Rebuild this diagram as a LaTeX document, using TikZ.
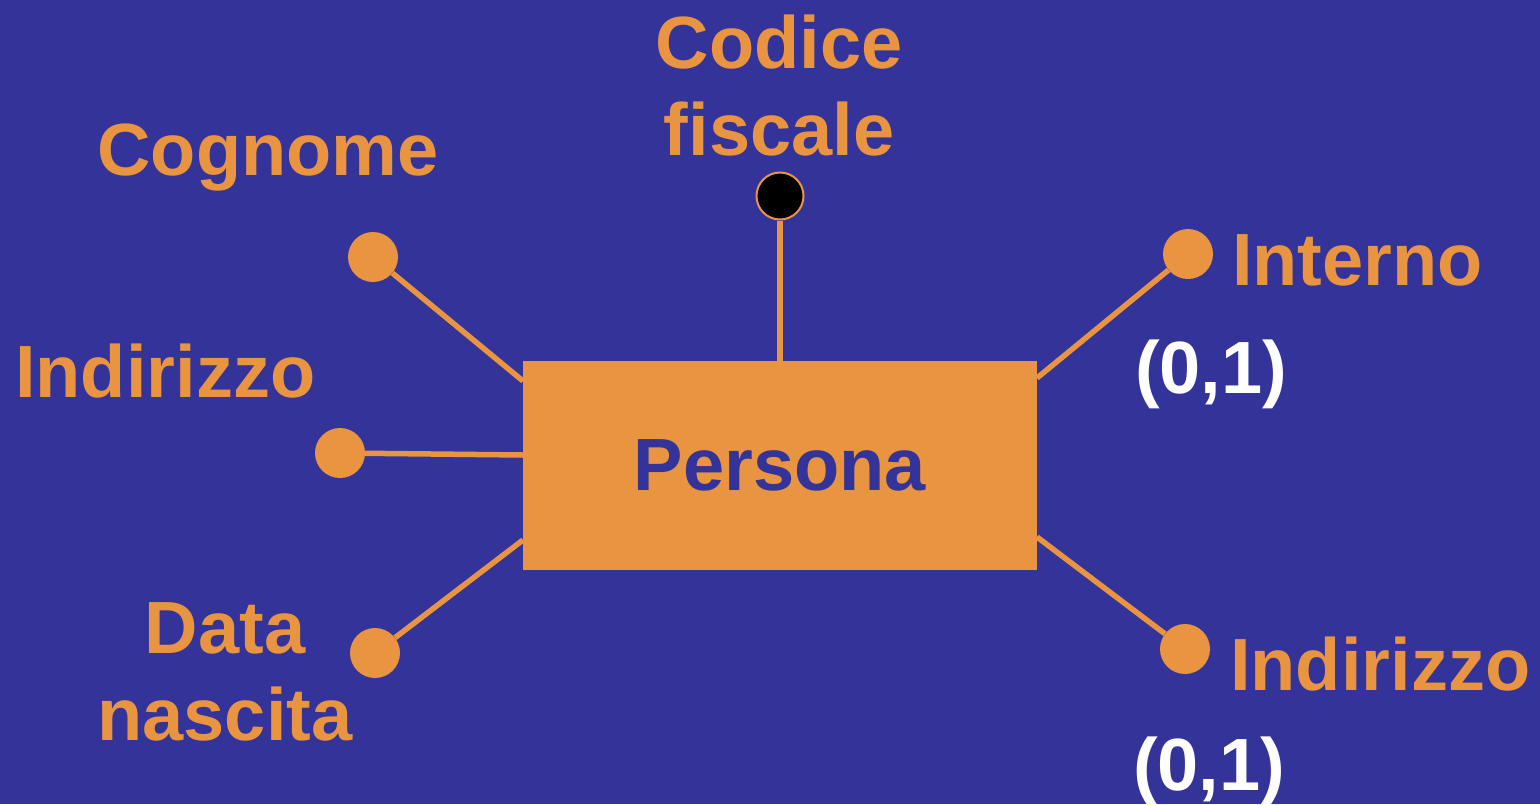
\documentclass[tikz,border=0pt]{standalone}
\usepackage{fontspec}
\setmainfont{Liberation Sans}
\definecolor{bg}{RGB}{51,51,153}
\definecolor{orng}{RGB}{232,148,64}
\begin{document}
\begin{tikzpicture}[x=1pt,y=-1pt,
  attr/.style={circle,fill=orng,inner sep=0pt,minimum size=50pt},
  keyattr/.style={circle,fill=black,draw=orng,line width=2pt,inner sep=0pt,minimum size=47pt},
  conn/.style={draw=orng,line width=5.5pt},
  lbl/.style={text=orng,font=\bfseries\fontsize{74}{87}\selectfont,inner sep=0pt,align=center},
  card/.style={text=white,font=\bfseries\fontsize{74}{87}\selectfont,inner sep=0pt},
  entity/.style={fill=orng,minimum width=514pt,minimum height=209pt,inner sep=0pt,text=bg,font=\bfseries\fontsize{74}{87}\selectfont}]
\fill[bg] (0,0) rectangle (1540,804);
\useasboundingbox (0,0) rectangle (1540,804);
\node[entity] (p) at (780,465.5) {\raisebox{-10pt}{Persona}};
% border points
\coordinate (pcf) at (780,361);
\coordinate (pcog) at (523,381);
\coordinate (pind) at (523,455);
\coordinate (pdat) at (523,540);
\coordinate (pint) at (1037,378);
\coordinate (pind2) at (1037,537);
% attribute dots
\node[keyattr] (cf) at (780,196) {};
\node[attr] (cog) at (373,257) {};
\node[attr] (ind) at (340,453) {};
\node[attr] (dat) at (375,653) {};
\node[attr] (int) at (1188,254) {};
\node[attr] (ind2) at (1185,649) {};
% connectors
\draw[conn] (cf) -- (pcf);
\draw[conn] (cog) -- (pcog);
\draw[conn] (ind) -- (pind);
\draw[conn] (dat) -- (pdat);
\draw[conn] (int) -- (pint);
\draw[conn] (ind2) -- (pind2);
% labels
\node[lbl,anchor=base] (tcf) at (779,155) {Codice\\fiscale};
\node[lbl,anchor=base] (tcog) at (268,175) {Cognome};
\node[lbl,anchor=base west] (tind) at (15,397) {Indirizzo};
\node[lbl,anchor=base] (tdat) at (225,740) {Data\\nascita};
\node[lbl,anchor=base west] (tint) at (1232,285) {Interno};
\node[card,anchor=base west] (cint) at (1135,393) {(0,1)};
\node[lbl,anchor=base west] (tind2) at (1230,690) {Indirizzo};
\node[card,anchor=base west] (cind2) at (1133,790) {(0,1)};
\end{tikzpicture}
\end{document}
